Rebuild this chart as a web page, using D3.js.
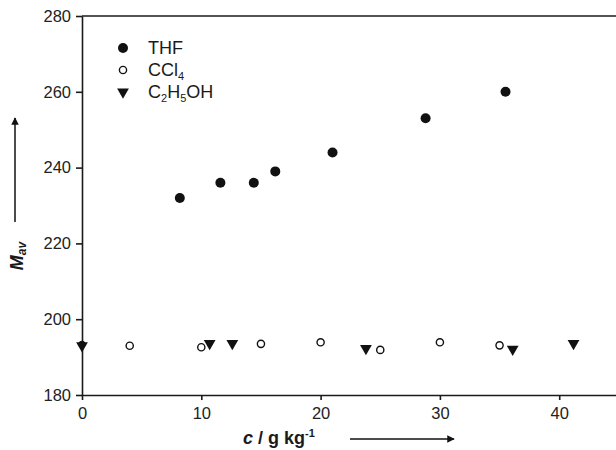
<!DOCTYPE html>
<html>
<head>
    <meta charset="utf-8">
    <title>mav-vs-concentration</title>
    <style>
body { margin: 0; background: #fff; }
text { font-family: "Liberation Sans", Arial, sans-serif; fill: #1a1a1a; }
.axis path, .axis line { stroke: #1a1a1a; stroke-width: 1.6; }
.axis text { font-size: 16.5px; fill: #222; }
</style>
</head>
<body>
<script src="https://cdn.jsdelivr.net/npm/d3@7"></script>
<script>
// data
var thfC   = [0, 8.2, 11.6, 14.4, 16.2, 21.0, 28.8, 35.5];
var thfM   = [193.4, 232, 236, 236, 239, 244, 253, 260];
var cclC   = [4, 10, 15, 20, 25, 30, 35];
var cclM   = [193.0, 192.6, 193.5, 193.9, 191.9, 193.9, 193.1];
var etC    = [0, 10.7, 12.6, 23.8, 36.1, 41.2];
var etM    = [193.0, 193.6, 193.6, 192.3, 192.1, 193.6];
var xTicks = [0, 10, 20, 30, 40];
var yTicks = [180, 200, 220, 240, 260, 280];

var totalWidth = 616, totalHeight = 450;
var margin = { top: 16, right: 0, bottom: 55, left: 82 };
var width = totalWidth - margin.left - margin.right,
    height = totalHeight - margin.top - margin.bottom;

var svg = d3.select("body").append("svg")
    .attr("width", totalWidth)
    .attr("height", totalHeight);

var g = svg.append("g")
    .attr("transform", "translate(" + margin.left + "," + margin.top + ")");

var x = d3.scaleLinear().domain([0, 44.76]).range([0, width]);
var y = d3.scaleLinear().domain([180, 280]).range([height, 0]);

// axes
g.append("g")
    .attr("class", "axis")
    .attr("transform", "translate(0," + height + ")")
    .call(d3.axisBottom(x).tickValues(xTicks).tickSize(5).tickSizeOuter(0).tickPadding(7));

g.append("g")
    .attr("class", "axis")
    .call(d3.axisLeft(y).tickValues(yTicks).tickSize(6).tickSizeOuter(0).tickPadding(5));

// top frame line
g.append("line")
    .attr("x1", 0).attr("x2", width)
    .attr("y1", 0).attr("y2", 0)
    .attr("stroke", "#1a1a1a").attr("stroke-width", 1.6);

var tri = d3.symbol().type(d3.symbolTriangle).size(60);

function zip(a, b) { return a.map(function (v, i) { return [v, b[i]]; }); }

// C2H5OH - filled down triangles
g.selectAll(".et").data(zip(etC, etM)).enter()
    .append("path")
    .attr("class", "et")
    .attr("d", tri)
    .attr("transform", function (d) { return "translate(" + x(d[0]) + "," + y(d[1]) + ") rotate(180)"; })
    .attr("fill", "#111");

// CCl4 - open circles
g.selectAll(".ccl").data(zip(cclC, cclM)).enter()
    .append("circle")
    .attr("class", "ccl")
    .attr("cx", function (d) { return x(d[0]); })
    .attr("cy", function (d) { return y(d[1]); })
    .attr("r", 3.6)
    .attr("fill", "#fff")
    .attr("stroke", "#111")
    .attr("stroke-width", 1.4);

// THF - filled circles
g.selectAll(".thf").data(zip(thfC, thfM)).enter()
    .append("circle")
    .attr("class", "thf")
    .attr("cx", function (d) { return x(d[0]); })
    .attr("cy", function (d) { return y(d[1]); })
    .attr("r", function (d) { return d[0] === 0 ? 3.5 : 5; })
    .attr("fill", "#111");

// legend
var legend = svg.append("g").attr("transform", "translate(123,0)");
legend.append("circle").attr("cx", 0).attr("cy", 48).attr("r", 5).attr("fill", "#111");
legend.append("circle").attr("cx", 0).attr("cy", 70).attr("r", 3.6)
    .attr("fill", "#fff").attr("stroke", "#111").attr("stroke-width", 1.4);
legend.append("path").attr("d", tri)
    .attr("transform", "translate(0,92) rotate(180)").attr("fill", "#111");

var lt = legend.append("g").attr("font-size", "18px");
lt.append("text").attr("x", 25).attr("y", 54).text("THF");
var t2 = lt.append("text").attr("x", 25).attr("y", 76);
t2.append("tspan").text("CCl");
t2.append("tspan").attr("font-size", "11px").attr("dy", 4).text("4");
var t3 = lt.append("text").attr("x", 25).attr("y", 98);
t3.append("tspan").text("C");
t3.append("tspan").attr("font-size", "11px").attr("dy", 4).text("2");
t3.append("tspan").attr("dy", -4).text("H");
t3.append("tspan").attr("font-size", "11px").attr("dy", 4).text("5");
t3.append("tspan").attr("dy", -4).text("OH");

// arrow marker
svg.append("defs").append("marker")
    .attr("id", "arr")
    .attr("viewBox", "0 0 10 10")
    .attr("refX", 9).attr("refY", 5)
    .attr("markerWidth", 5).attr("markerHeight", 5)
    .attr("orient", "auto")
    .append("path").attr("d", "M0,0L10,5L0,10z").attr("fill", "#111");

// y label with arrow
var yl = svg.append("text")
    .attr("transform", "translate(23,256) rotate(-90)")
    .attr("text-anchor", "middle")
    .attr("font-size", "18px")
    .attr("font-weight", "bold")
    .attr("font-style", "italic");
yl.append("tspan").text("M");
yl.append("tspan").attr("font-size", "12px").attr("dy", 3).text("av");
svg.append("line")
    .attr("x1", 15).attr("x2", 15).attr("y1", 222).attr("y2", 118)
    .attr("stroke", "#111").attr("stroke-width", 1.5)
    .attr("marker-end", "url(#arr)");

// x label with arrow
var xl = svg.append("text")
    .attr("x", 243).attr("y", 444)
    .attr("font-size", "18px")
    .attr("font-weight", "bold");
xl.append("tspan").attr("font-style", "italic").text("c");
xl.append("tspan").text(" / g kg");
xl.append("tspan").attr("font-size", "11px").attr("dy", -7).text("-1");
svg.append("line")
    .attr("x1", 350).attr("x2", 454).attr("y1", 439).attr("y2", 439)
    .attr("stroke", "#111").attr("stroke-width", 1.5)
    .attr("marker-end", "url(#arr)");
</script>
</body>
</html>
